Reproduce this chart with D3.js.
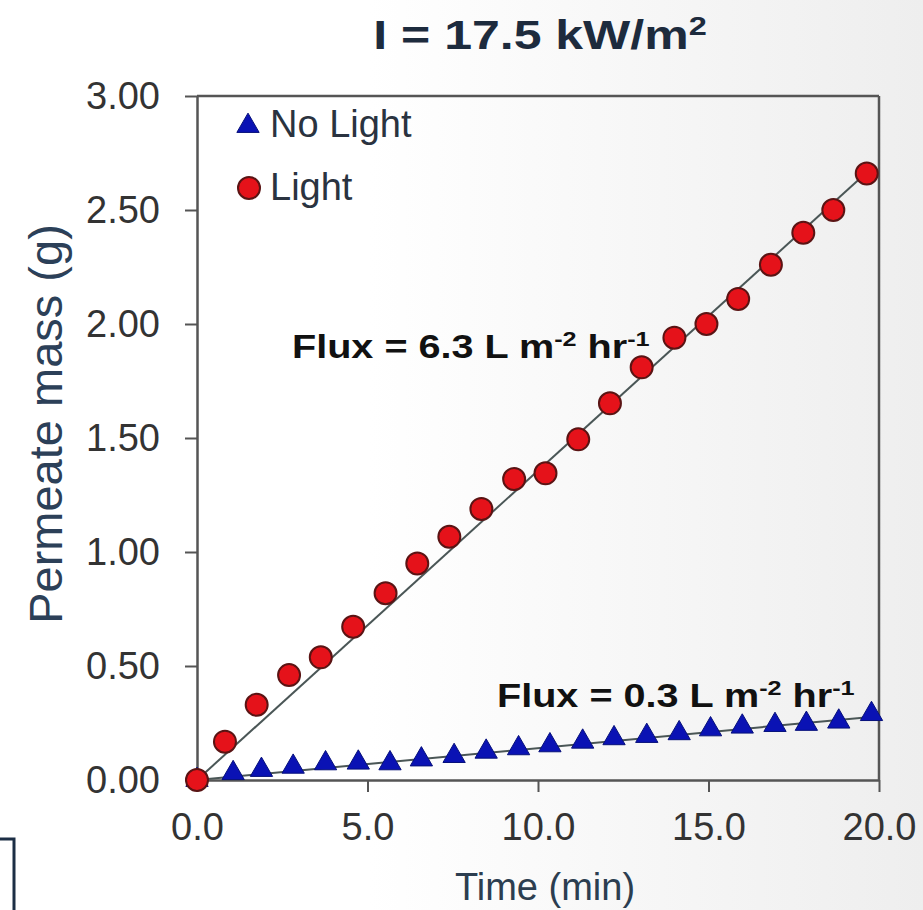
<!DOCTYPE html>
<html>
<head>
<meta charset="utf-8">
<script src="https://cdn.jsdelivr.net/npm/d3@7"></script>
<style>
  html,body{margin:0;padding:0;background:#fff;}
  svg{display:block;}
</style>
</head>
<body>
<svg id="chart" width="923" height="910"></svg>
<script>
/* ── data ── */
var lightTime=[0,0.82,1.75,2.70,3.63,4.58,5.53,6.46,7.40,8.34,9.30,10.22,11.18,12.11,13.04,14.00,14.94,15.87,16.83,17.78,18.66,19.64];
var lightMass=[0,0.168,0.33,0.46,0.538,0.672,0.819,0.95,1.067,1.189,1.32,1.345,1.494,1.652,1.81,1.94,2.00,2.11,2.26,2.40,2.50,2.66];
var darkTime=[0,1.06,1.89,2.82,3.77,4.73,5.66,6.58,7.54,8.48,9.43,10.35,11.31,12.23,13.19,14.14,15.06,15.99,16.95,17.87,18.82,19.78];
var darkMass=[0,0.03,0.044,0.058,0.073,0.076,0.073,0.09,0.105,0.124,0.139,0.152,0.168,0.183,0.193,0.205,0.222,0.234,0.241,0.246,0.256,0.289];
var lightFit=[[0,0],[19.75,2.68]];
var darkFit=[[0,0],[20,0.28]];
var xTicks=[0,5,10,15,20];
var yTicks=[0,0.5,1,1.5,2,2.5,3];

var FONT='Liberation Sans, Arial, sans-serif';
var svg=d3.select('#chart');

/* background: white fading to light grey on the right */
var defs=svg.append('defs');
var gr=defs.append('linearGradient').attr('id','bg').attr('x1','0').attr('x2','1').attr('y1','0').attr('y2','0');
gr.append('stop').attr('offset','0.4').attr('stop-color','#ffffff');
gr.append('stop').attr('offset','1').attr('stop-color','#eeeeee');
svg.append('rect').attr('width',923).attr('height',910).attr('fill','url(#bg)');

var x=d3.scaleLinear().domain([0,20]).range([197,879]);
var y=d3.scaleLinear().domain([0,3]).range([780,96]);

/* ── frame + axes ── */
var axCol='#555';
function styleAxis(g){
  g.select('.domain').attr('stroke',axCol).attr('stroke-width',2.5);
  g.selectAll('.tick line').attr('stroke',axCol).attr('stroke-width',2);
  g.selectAll('text').attr('font-family',FONT).attr('font-size','38px').attr('fill','#333');
}
svg.append('g').attr('transform','translate(0,780)')
  .call(d3.axisBottom(x).tickValues(xTicks).tickSizeInner(12).tickSizeOuter(0).tickPadding(21).tickFormat(d3.format('.1f')))
  .call(styleAxis);
svg.append('g').attr('transform','translate(197,0)')
  .call(d3.axisLeft(y).tickValues(yTicks).tickSizeInner(12).tickSizeOuter(0).tickPadding(25).tickFormat(d3.format('.2f')))
  .call(styleAxis);
svg.append('line').attr('x1',x(0)).attr('x2',x(20)).attr('y1',y(3)).attr('y2',y(3))
  .attr('stroke',axCol).attr('stroke-width',2.5);
svg.append('line').attr('x1',x(20)).attr('x2',x(20)).attr('y1',y(3)).attr('y2',y(0))
  .attr('stroke',axCol).attr('stroke-width',2.5);

/* ── titles ── */
var t=svg.append('text').attr('transform','translate(540,49) scale(1.25,1)').attr('text-anchor','middle')
  .attr('font-family',FONT).attr('font-weight','bold').attr('font-size','40px').attr('fill','#1d2b3d');
t.append('tspan').text('I = 17.5 kW/m');
t.append('tspan').attr('font-size','26px').attr('dy',-14).text('2');

svg.append('text').attr('x',545).attr('y',900).attr('text-anchor','middle')
  .attr('font-family',FONT).attr('font-size','38px').attr('fill','#2c3e50').text('Time (min)');
svg.append('text').attr('transform','translate(62,424) rotate(-90)').attr('text-anchor','middle')
  .attr('font-family',FONT).attr('font-size','47px').attr('fill','#2c4058').text('Permeate mass (g)');

/* ── fit lines ── */
var line=d3.line().x(function(d){return x(d[0])}).y(function(d){return y(d[1])});
svg.append('path').attr('d',line(lightFit)).attr('fill','none').attr('stroke','#4a5656').attr('stroke-width',2);
svg.append('path').attr('d',line(darkFit)).attr('fill','none').attr('stroke','#4a5656').attr('stroke-width',2);

/* ── markers ── */
var tri=d3.symbol().type(d3.symbolTriangle).size(215);
darkTime.forEach(function(tv,i){
  svg.append('path').attr('d',tri()).attr('transform','translate('+x(tv)+','+y(darkMass[i])+')')
    .attr('fill','#0a12b4').attr('stroke','#06107a').attr('stroke-width',1);
});
lightTime.forEach(function(tv,i){
  svg.append('circle').attr('cx',x(tv)).attr('cy',y(lightMass[i])).attr('r',11)
    .attr('fill','#e5121a').attr('stroke','#5a1414').attr('stroke-width',2);
});

/* ── legend ── */
svg.append('path').attr('d',tri()).attr('transform','translate(248,126)')
  .attr('fill','#0a12b4').attr('stroke','#06107a').attr('stroke-width',1);
svg.append('text').attr('x',270).attr('y',137).attr('font-family',FONT).attr('font-size','38px')
  .attr('fill','#2a3340').text('No Light');
svg.append('circle').attr('cx',249).attr('cy',188).attr('r',11)
  .attr('fill','#e5121a').attr('stroke','#5a1414').attr('stroke-width',2);
svg.append('text').attr('x',270).attr('y',200).attr('font-family',FONT).attr('font-size','38px')
  .attr('fill','#2a3340').text('Light');

/* ── flux annotations ── */
function flux(xp,yp,val){
  var tx=svg.append('text').attr('transform','translate('+xp+','+yp+') scale(1.2,1)').attr('font-family',FONT)
    .attr('font-weight','bold').attr('font-size','33px').attr('fill','#111');
  tx.append('tspan').text('Flux = '+val+' L m');
  tx.append('tspan').attr('font-size','21px').attr('dy',-12).text('-2');
  tx.append('tspan').attr('dy',12).text(' hr');
  tx.append('tspan').attr('font-size','21px').attr('dy',-12).text('-1');
}
flux(292,358,'6.3');
flux(497,707,'0.3');

/* partial box at the lower-left edge */
svg.append('path').attr('d','M0,839 H14 V910').attr('fill','none').attr('stroke','#1c2e45').attr('stroke-width',3);
</script>
</body>
</html>
